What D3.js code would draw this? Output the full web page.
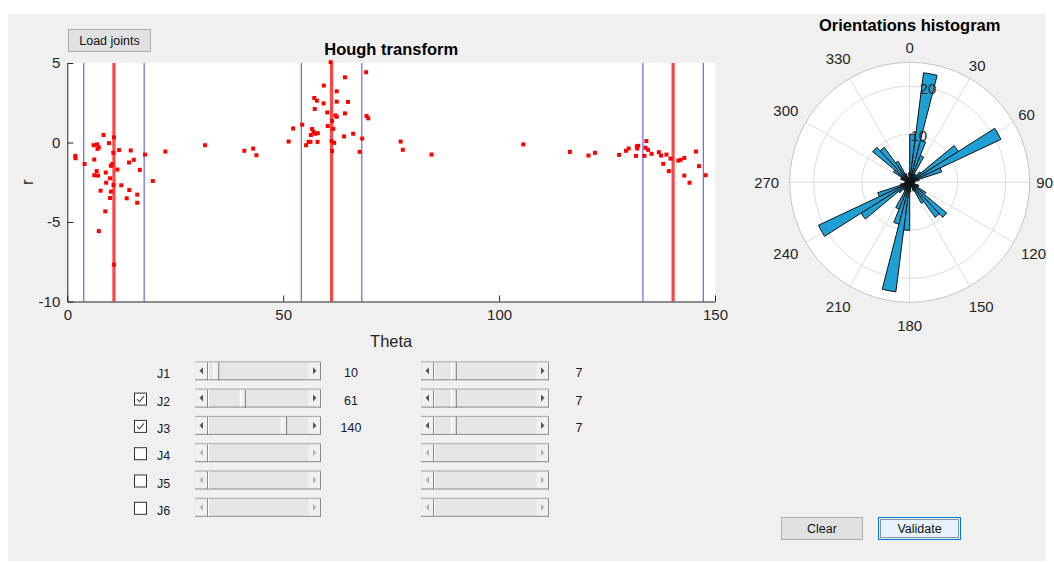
<!DOCTYPE html>
<html><head><meta charset="utf-8">
<script src="https://cdn.jsdelivr.net/npm/d3@7"></script>
<style>
body{margin:0;background:#fff;}
svg text{font-family:"Liberation Sans", Arial, sans-serif;}
</style>
</head><body>
<svg id="c" width="1054" height="563"></svg>
<script>
// ---------------- DATA ----------------
const houghTheta = [
 1.85,1.9,4.0,8.4,10.8,6.1,6.9,7.3,7.0,9.65,10.65,12.0,14.7,18.0,22.7,31.9,6.25,14.3,15.4,10.4,10.1,11.6,16.8,6.8,8.9,6.25,7.1,9.9,19.8,9.0,10.7,12.5,7.7,10.1,14.35,16.2,9.9,13.75,16.2,8.8,7.3,10.8,
 41.0,43.05,43.8,51.25,52.3,54.4,55.3,55.9,56.3,56.4,56.7,57.0,57.4,58.0,57.95,57.3,57.2,57.8,59.4,59.35,60.2,60.3,61.0,61.3,61.6,61.2,61.8,61.3,62.1,62.4,62.4,62.4,64.3,65.0,64.3,64.1,66.2,67.7,68.3,69.2,69.3,69.7,77.2,77.7,
 84.35,105.6,116.4,120.7,122.2,127.8,129.4,130.0,131.7,131.9,132.2,132.0,133.65,134.1,133.9,134.5,135.3,137.0,137.5,138.75,138.0,139.3,139.7,141.5,142.05,142.9,142.9,144.1,145.6,146.3,147.85
];
const houghR = [
 -0.84,-0.99,-1.35,0.47,0.32,-0.17,-0.12,-0.31,-0.4,-0.04,-0.65,-0.48,-0.5,-0.76,-0.57,-0.17,-1.07,-1.26,-1.09,-1.36,-1.47,-1.7,-1.72,-1.8,-1.89,-2.06,-2.08,-2.25,-2.42,-2.53,-2.67,-2.69,-3.03,-3.09,-2.99,-3.28,-3.49,-3.51,-3.79,-4.33,-5.57,-7.68,
 -0.52,-0.38,-0.8,0.06,0.88,1.12,-0.17,0.04,0.04,0.47,0.85,0.68,0.55,0.59,0.04,2.11,2.8,2.63,3.58,2.46,1.89,1.04,5.05,1.35,0.86,0.09,-0.02,-0.54,1.7,1.62,3.22,2.57,4.1,2.55,1.83,0.38,0.55,-0.59,0.25,4.42,1.67,1.52,0.06,-0.46,
 -0.76,-0.12,-0.59,-0.82,-0.65,-0.78,-0.52,-0.38,-0.84,-0.25,-0.21,-0.38,-0.84,0.09,-0.33,-0.46,-0.71,-0.61,-0.82,-0.76,-1.34,-1.8,-1.01,-1.14,-1.09,-0.97,-2.08,-2.53,-0.57,-1.49,-2.06
];
const jointNames = ["J1","J2","J3","J4","J5","J6"];
const jointHasCheckbox = [false,true,true,true,true,true];
const jointChecked = [false,true,true,false,false,false];
const jointEnabled = [true,true,true,false,false,false];
const jointTheta = [10,61,140];          // slider values shown
const jointLinePos = [10.8,61.2,140.3];  // red line positions
const jointWindow = [7,7,7];             // second slider values (half window)
const xTicks = [0,50,100,150];
const yTicks = [-10,-5,0,5];
// polar histogram: 50 bins of 7.2 degrees, counts
const histBinWidth = 7.2;
const histCounts = [
 10,23,9,6,2,2,3,12,21,7,2,1,1,1,1,2,2,4,10,9,5,2,1,1,2,
 10,23,9,6,2,2,3,12,21,7,2,1,1,1,1,2,2,4,10,9,5,2,1,1,2
];
const polarAngleTicks = [0,30,60,90,120,150,180,210,240,270,300,330];
const polarRTicks = [10,20];
const polarRMax = 25;

// ---------------- DRAW ----------------
const svg = d3.select("#c");
const FONT = '"Liberation Sans", Arial, sans-serif';
const DARK = "#262626";
svg.append("rect").attr("x",8).attr("y",14).attr("width",1038).attr("height",547).attr("fill","#f0f0f0");

// ---- Hough axes ----
const x = d3.scaleLinear().domain([0,150]).range([67.3,715]);
const y = d3.scaleLinear().domain([-10,5]).range([301.5,63]);
const g = svg.append("g");
g.append("rect").attr("x",x(0)).attr("y",y(5)).attr("width",x(150)-x(0)).attr("height",y(-10)-y(5)).attr("fill","#fff");

jointLinePos.forEach((t,i)=>{
  [t-jointWindow[i], t+jointWindow[i]].forEach(v=>{
    g.append("line").attr("x1",x(v)).attr("x2",x(v)).attr("y1",y(5)).attr("y2",y(-10))
      .attr("stroke","#6464ff").attr("stroke-width",1.2);
  });
});
jointLinePos.forEach(t=>{
  g.append("line").attr("x1",x(t)).attr("x2",x(t)).attr("y1",y(5)).attr("y2",y(-10))
    .attr("stroke","#ff4646").attr("stroke-width",3.2);
});
g.selectAll("rect.pt").data(d3.range(houghTheta.length)).join("rect").attr("class","pt")
  .attr("x",i=>x(houghTheta[i])-2).attr("y",i=>y(houghR[i])-2)
  .attr("width",4).attr("height",4).attr("fill","#ff0000");

const fmt = d => String(d);
const xa = g.append("g").attr("transform",`translate(0,${y(-10)})`)
  .call(d3.axisBottom(x).tickValues(xTicks).tickFormat(fmt).tickSizeInner(-6).tickSizeOuter(0).tickPadding(8));
const ya = g.append("g").attr("transform",`translate(${x(0)},0)`)
  .call(d3.axisLeft(y).tickValues(yTicks).tickFormat(fmt).tickSizeInner(-6).tickSizeOuter(0).tickPadding(7));
[xa,ya].forEach(a=>{
  a.attr("font-family",FONT).attr("font-size",15);
  a.selectAll("path,line").attr("stroke",DARK);
  a.selectAll("text").attr("fill",DARK);
});
g.append("text").attr("x",(x(0)+x(150))/2).attr("y",54.5).attr("text-anchor","middle")
  .attr("font-weight","bold").attr("font-size",16.5).attr("fill","#000").text("Hough transform");
g.append("text").attr("x",(x(0)+x(150))/2).attr("y",347).attr("text-anchor","middle")
  .attr("font-size",16.5).attr("fill",DARK).text("Theta");
g.append("text").attr("transform",`translate(33,${y(-2.5)}) rotate(-90)`).attr("text-anchor","middle")
  .attr("font-size",16.5).attr("fill",DARK).text("r");

// ---- Polar histogram ----
const cx=909.7, cy=182.3, R=120;
const rr = d3.scaleLinear().domain([0,polarRMax]).range([0,R]);
const pg = svg.append("g").attr("transform",`translate(${cx},${cy})`);
pg.append("circle").attr("r",R).attr("fill","#fff");
polarRTicks.forEach(t=>pg.append("circle").attr("r",rr(t)).attr("fill","none").attr("stroke","#dcdcdc"));
polarAngleTicks.forEach(a=>{
  const th=a*Math.PI/180;
  pg.append("line").attr("x1",0).attr("y1",0).attr("x2",R*Math.sin(th)).attr("y2",-R*Math.cos(th))
    .attr("stroke","#dcdcdc");
});
pg.append("circle").attr("r",R).attr("fill","none").attr("stroke","#c4c4c4");
const arc = d3.arc().innerRadius(0);
histCounts.forEach((c,i)=>{
  pg.append("path").attr("d",arc({outerRadius:rr(c),startAngle:i*histBinWidth*Math.PI/180,endAngle:(i+1)*histBinWidth*Math.PI/180}))
    .attr("fill","#1fa0d4").attr("stroke","#111").attr("stroke-width",1);
});
polarRTicks.forEach(t=>{
  const th=11*Math.PI/180;
  pg.append("text").attr("x",rr(t)*Math.sin(th)).attr("y",-rr(t)*Math.cos(th)).attr("text-anchor","middle")
    .attr("dominant-baseline","central").attr("font-size",15).attr("fill",DARK).text(t);
});
polarAngleTicks.forEach(a=>{
  const s=String(a), Rl = s.length<=2?135:143, th=a*Math.PI/180;
  pg.append("text").attr("x",Rl*Math.sin(th)).attr("y",-Rl*Math.cos(th)).attr("text-anchor","middle")
    .attr("dominant-baseline","central").attr("font-size",15).attr("fill",DARK).text(s);
});
svg.append("text").attr("x",cx).attr("y",31).attr("text-anchor","middle").attr("font-weight","bold")
  .attr("font-size",16.5).attr("fill","#000").text("Orientations histogram");

// ---- UI controls ----
const CF = 12.5;
function button(bx,by,w,h,label,focused){
  const b = svg.append("g");
  b.append("rect").attr("x",bx+0.5).attr("y",by+0.5).attr("width",w).attr("height",h)
    .attr("fill",focused?"#e5f1fb":"#e1e1e1").attr("stroke",focused?"#0078d7":"#adadad");
  if(focused) b.append("rect").attr("x",bx+2.5).attr("y",by+2.5).attr("width",w-4).attr("height",h-4)
    .attr("fill","none").attr("stroke","#333").attr("stroke-dasharray","1,1");
  b.append("text").attr("x",bx+w/2+0.5).attr("y",by+h/2+4.5).attr("text-anchor","middle")
    .attr("font-size",CF).attr("fill","#111").text(label);
}
button(68,29,82,22,"Load joints",false);
button(781,517,81,22,"Clear",false);
button(878,517,82,22,"Validate",true);

function slider(sx,sy,w,h,enabled,value,dom){
  const s = svg.append("g");
  const bw=13, tw=6;
  s.append("rect").attr("x",sx).attr("y",sy).attr("width",w).attr("height",h).attr("fill","#e6e6e6");
  s.append("line").attr("x1",sx).attr("x2",sx+w).attr("y1",sy+0.5).attr("y2",sy+0.5).attr("stroke","#a8a8a8");
  s.append("line").attr("x1",sx).attr("x2",sx+w).attr("y1",sy+h-0.5).attr("y2",sy+h-0.5).attr("stroke","#8c8c8c");
  const arrowCol = enabled?"#555":"#b4b4b4";
  [[sx,-1],[sx+w-bw,1]].forEach(([bx,dir])=>{
    s.append("rect").attr("x",bx+0.5).attr("y",sy+1.5).attr("width",bw-1).attr("height",h-3).attr("fill","#f0f0f0");
    s.append("line").attr("x1",bx+bw-0.5).attr("x2",bx+bw-0.5).attr("y1",sy+1).attr("y2",sy+h).attr("stroke","#8c8c8c");
    const mx=bx+bw/2, my=sy+h/2;
    s.append("path").attr("d",`M${mx+dir*2},${my} L${mx-dir*1.5},${my-3.5} L${mx-dir*1.5},${my+3.5} Z`).attr("fill",arrowCol);
  });
  s.append("line").attr("x1",sx+bw+0.5).attr("x2",sx+bw+0.5).attr("y1",sy+1).attr("y2",sy+h-1).attr("stroke","#fff");
  if(enabled){
    const ts = d3.scaleLinear().domain(dom).range([sx+bw, sx+w-bw-tw]);
    const tx = ts(value);
    s.append("rect").attr("x",tx).attr("y",sy+1.5).attr("width",tw).attr("height",h-3).attr("fill","#f0f0f0");
    s.append("line").attr("x1",tx+0.5).attr("x2",tx+0.5).attr("y1",sy+1).attr("y2",sy+h-1).attr("stroke","#fff");
    s.append("line").attr("x1",tx+tw-0.5).attr("x2",tx+tw-0.5).attr("y1",sy+1).attr("y2",sy+h).attr("stroke","#7a7a7a");
  }
}
jointNames.forEach((nm,i)=>{
  const ry = 370.8 + 27.3*i;   // slider row centre
  const ly = ry + 7.5;          // label baseline
  if(jointHasCheckbox[i]){
    const cbx=134, cby=ry-5.5;
    svg.append("rect").attr("x",cbx+0.5).attr("y",cby+0.5).attr("width",12).attr("height",12)
      .attr("fill","#fff").attr("stroke","#333");
    if(jointChecked[i]) svg.append("path").attr("d",`M${cbx+3},${cby+6.5} L${cbx+5.5},${cby+9} L${cbx+10},${cby+3.5}`)
      .attr("fill","none").attr("stroke","#555").attr("stroke-width",1.3);
  }
  svg.append("text").attr("x",157).attr("y",ly).attr("font-size",CF).attr("fill","#1a1a2e").text(nm);
  const en = jointEnabled[i];
  slider(195, ry-9.5, 126, 19, en, en?jointTheta[i]:0, [0,180]);
  slider(421, ry-9.5, 128, 19, en, en?jointWindow[i]:0, [0,40]);
  if(en){
    svg.append("text").attr("x",351).attr("y",ly-1).attr("text-anchor","middle").attr("font-size",CF).attr("fill","#1a1a2e").text(jointTheta[i]);
    svg.append("text").attr("x",579).attr("y",ly-1).attr("text-anchor","middle").attr("font-size",CF).attr("fill","#1a1a2e").text(jointWindow[i]);
  }
});
</script>
</body></html>
